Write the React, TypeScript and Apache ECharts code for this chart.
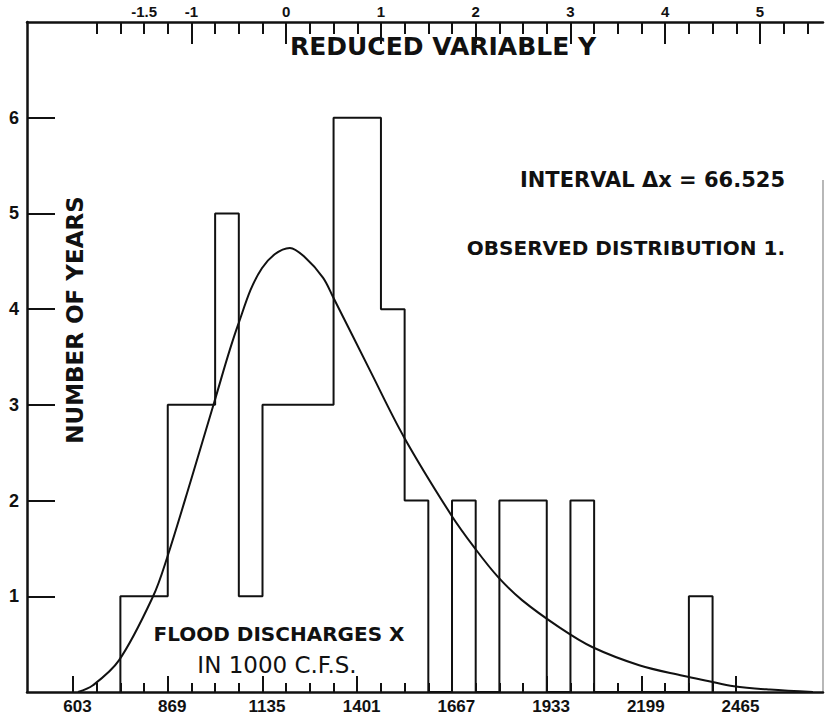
import React, { useEffect, useRef } from "react";
import * as echarts from "echarts";

// ---- data ----
const INTERVAL = 66.525; // class interval Δx (1000 c.f.s.)
const FIRST_BIN_START = 736.05; // lower edge of first non-empty class
const binCounts = [1, 1, 3, 3, 5, 1, 3, 3, 3, 6, 6, 4, 2, 0, 2, 0, 2, 2, 0, 2, 0, 0, 0, 0, 1];

const curveX = [617, 659, 732, 828, 867, 934, 999, 1066, 1134, 1212, 1255, 1305, 1333, 1437, 1533, 1665, 1732, 1797, 1864, 1971, 2061, 2193, 2316, 2386, 2459, 2560, 2681];
const curveY = [0, 0.07, 0.33, 1.0, 1.4, 2.21, 3.02, 3.83, 4.43, 4.64, 4.54, 4.33, 4.13, 3.36, 2.66, 1.85, 1.5, 1.2, 0.96, 0.67, 0.47, 0.28, 0.17, 0.115, 0.06, 0.025, 0.0];

const xTickLabels = [603, 869, 1135, 1401, 1667, 1933, 2199, 2465];
const xMinorTicks = [669.5, 736.05, 802.6, 935.6, 1002.2, 1068.7, 1201.7, 1268.3, 1334.8, 1467.8, 1534.4, 1600.9, 1733.9, 1800.5, 1867.0, 2000.0, 2066.6, 2133.1, 2266.1, 2332.7, 2399.2];
const yReducedLabels = [-1.5, -1, 0, 1, 2, 3, 4, 5];
const yReducedMajor = [-1, 0, 1, 2, 3, 4, 5];
const yReducedMinor = [-2, -1.75, -1.5, -1.25, -0.75, -0.5, -0.25, 0.25, 0.5, 0.75, 1.25, 1.5, 1.75, 2.25, 2.5, 2.75, 3.25, 3.5, 3.75, 4.25, 4.5, 4.75, 5.25, 5.5];
const yearTicks = [1, 2, 3, 4, 5, 6];

const FONT = "Liberation Sans";
const LETTER = "DejaVu Sans";
const INK = "#111";

export default function App() {
  const ref = useRef<HTMLDivElement>(null);
  useEffect(() => {
    if (!ref.current) return;
    const chart = echarts.init(ref.current, undefined, { renderer: "svg" });

    const histData: number[][] = [[FIRST_BIN_START, 0]];
    binCounts.forEach((c, i) => histData.push([FIRST_BIN_START + i * INTERVAL, c]));
    histData.push([FIRST_BIN_START + binCounts.length * INTERVAL, 0]);

    const curveData = curveX.map((x, i) => [x, curveY[i]]);

    const xMin = 473.8;
    const xMax = 2709.3;
    const yrMin = -2.736;
    const yrMax = 5.665;

    chart.setOption({
      animation: false,
      backgroundColor: "#fff",
      grid: { left: 27, top: 22, right: 4, bottom: 26, show: false },
      xAxis: [
        {
          type: "value",
          position: "bottom",
          min: xMin,
          max: xMax,
          axisLine: { show: true, onZero: false, lineStyle: { color: INK, width: 2.5 } },
          axisTick: { show: true, inside: true, length: 16, customValues: xTickLabels, lineStyle: { color: INK, width: 2 } },
          axisLabel: { show: true, customValues: xTickLabels, formatter: (v: number) => String(Math.round(v)), color: INK, fontFamily: FONT, fontWeight: "bold", fontSize: 17, margin: 6, padding: [0, 0, 0, 9] },
          splitLine: { show: false },
        },
        {
          type: "value",
          position: "bottom",
          min: xMin,
          max: xMax,
          axisLine: { show: false, onZero: false },
          axisTick: { show: true, inside: true, length: 9, customValues: xMinorTicks, lineStyle: { color: INK, width: 2 } },
          axisLabel: { show: false },
          splitLine: { show: false },
        },
        {
          type: "value",
          position: "top",
          min: yrMin,
          max: yrMax,
          axisLine: { show: true, onZero: false, lineStyle: { color: INK, width: 2.5 } },
          axisTick: { show: true, inside: true, length: 22, customValues: yReducedMajor, lineStyle: { color: INK, width: 2 } },
          axisLabel: {
            show: true,
            customValues: yReducedLabels,
            formatter: (v: number) => (v < 0 ? "-" + String(Math.abs(v)) : String(v)),
            color: INK,
            fontFamily: FONT,
            fontWeight: "bold",
            fontSize: 15,
            margin: 3,
          },
          splitLine: { show: false },
        },
        {
          type: "value",
          position: "top",
          min: yrMin,
          max: yrMax,
          axisLine: { show: false, onZero: false },
          axisTick: { show: true, inside: true, length: 12, customValues: yReducedMinor, lineStyle: { color: INK, width: 2 } },
          axisLabel: { show: false },
          splitLine: { show: false },
        },
      ],
      yAxis: [
        {
          type: "value",
          position: "left",
          min: 0,
          max: 7,
          axisLine: { show: true, onZero: false, lineStyle: { color: INK, width: 2.5 } },
          axisTick: { show: true, inside: true, length: 28, customValues: yearTicks, lineStyle: { color: INK, width: 2 } },
          axisLabel: { show: true, customValues: yearTicks, color: INK, fontFamily: FONT, fontWeight: "bold", fontSize: 18, margin: 8 },
          splitLine: { show: false },
        },
      ],
      series: [
        {
          type: "line",
          name: "Observed",
          xAxisIndex: 0,
          yAxisIndex: 0,
          step: "end",
          data: histData,
          showSymbol: false,
          symbol: "none",
          lineStyle: { color: INK, width: 2 },
          silent: true,
        },
        {
          type: "line",
          name: "Theoretical",
          xAxisIndex: 0,
          yAxisIndex: 0,
          smooth: 0.35,
          data: curveData,
          showSymbol: false,
          symbol: "none",
          lineStyle: { color: INK, width: 2 },
          silent: true,
        },
      ],
      graphic: [
        { type: "line", shape: { x1: 823, y1: 180, x2: 823, y2: 692 }, style: { stroke: "#888", lineWidth: 1.2 } },
        { type: "text", x: 443, y: 46, style: { text: "REDUCED VARIABLE Y", font: `bold 25px "${LETTER}"`, fill: INK, align: "center", verticalAlign: "middle" } },
        { type: "text", x: 75, y: 320, rotation: Math.PI / 2, style: { text: "NUMBER OF YEARS", font: `bold 23px "${LETTER}"`, fill: INK, align: "center", verticalAlign: "middle" } },
        { type: "text", x: 785, y: 180, style: { text: "INTERVAL Δx = 66.525", font: `bold 21px "${LETTER}"`, fill: INK, align: "right", verticalAlign: "middle" } },
        { type: "text", x: 785, y: 248, style: { text: "OBSERVED DISTRIBUTION 1.", font: `bold 20px "${LETTER}"`, fill: INK, align: "right", verticalAlign: "middle" } },
        { type: "text", x: 279, y: 634, style: { text: "FLOOD DISCHARGES X", font: `bold 20px "${LETTER}"`, fill: INK, align: "center", verticalAlign: "middle" } },
        { type: "text", x: 277, y: 665, style: { text: "IN 1000 C.F.S.", font: `23px "${LETTER}"`, fill: INK, align: "center", verticalAlign: "middle" } },
      ],
    });
    return () => chart.dispose();
  }, []);
  return <div ref={ref} style={{ position: "fixed", left: 0, top: 0, width: 827, height: 718, background: "#fff" }} />;
}
